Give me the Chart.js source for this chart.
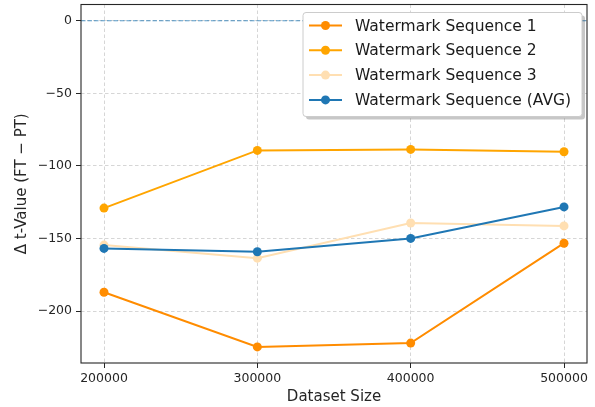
<!DOCTYPE html>
<html>
<head>
<meta charset="utf-8">
<script src="https://cdn.jsdelivr.net/npm/chart.js@4"></script>
<style>
html,body{margin:0;padding:0;background:#fff;}
#wrap{width:595px;height:407px;}
</style>
</head>
<body>
<div id="wrap"><canvas id="c" width="595" height="407"></canvas></div>
<script>
const datasetSizes = [200000, 300000, 400000, 500000];
const seq1 = [-187.0, -224.6, -222.0, -153.2];
const seq2 = [-129.0, -89.3, -88.6, -90.2];
const seq3 = [-154.5, -163.5, -139.3, -141.3];
const seqAvg = [-156.8, -159.1, -149.9, -128.2];
const seriesNames = ['Watermark Sequence 1', 'Watermark Sequence 2', 'Watermark Sequence 3', 'Watermark Sequence (AVG)'];
const xTicks = [200000, 300000, 400000, 500000];
const yTicks = [-200, -150, -100, -50, 0];
const xRange = [185000, 515000];
const yRange = [-235.7, 11.2];
const refLine = [0, 0];

const colors = ['#ff8c00', '#ffa500', '#ffdfb2', '#1f77b4'];
const FONT = "'DejaVu Sans', sans-serif";

function pts(vals) { return vals.map((v, i) => ({x: datasetSizes[i], y: v})); }

const series = [seq1, seq2, seq3, seqAvg];
const orders = [3, 2, 1, 0];
const datasets = series.map((s, i) => ({
  label: seriesNames[i],
  data: pts(s),
  borderColor: colors[i],
  backgroundColor: colors[i],
  pointBackgroundColor: colors[i],
  pointBorderColor: colors[i],
  borderWidth: 2,
  pointRadius: 4.5,
  pointBorderWidth: 0,
  tension: 0,
  order: orders[i]
}));
datasets.push({
  label: '_zero',
  data: [{x: xRange[0], y: refLine[0]}, {x: xRange[1], y: refLine[1]}],
  borderColor: 'rgba(31,119,180,0.75)',
  borderWidth: 1.1,
  borderDash: [4.5, 2],
  pointRadius: 0,
  order: 4
});

const framePlugin = {
  id: 'frame',
  afterDatasetsDraw(chart) {
    const {ctx, chartArea: a} = chart;
    ctx.save();
    ctx.strokeStyle = '#262626';
    ctx.lineWidth = 1.1;
    ctx.strokeRect(a.left, a.top, a.right - a.left, a.bottom - a.top);
    ctx.restore();
  }
};

function roundRect(ctx, x, y, w, h, r) {
  ctx.beginPath();
  ctx.moveTo(x + r, y);
  ctx.lineTo(x + w - r, y);
  ctx.arcTo(x + w, y, x + w, y + r, r);
  ctx.lineTo(x + w, y + h - r);
  ctx.arcTo(x + w, y + h, x + w - r, y + h, r);
  ctx.lineTo(x + r, y + h);
  ctx.arcTo(x, y + h, x, y + h - r, r);
  ctx.lineTo(x, y + r);
  ctx.arcTo(x, y, x + r, y, r);
  ctx.closePath();
}

const legendPlugin = {
  id: 'mplLegend',
  afterDraw(chart) {
    const {ctx, chartArea: a} = chart;
    const w = 279, h = 104;
    const x = a.right - 5 - w, y = a.top + 8;
    ctx.save();
    ctx.fillStyle = 'rgba(0,0,0,0.22)';
    roundRect(ctx, x + 3, y + 3, w, h, 3);
    ctx.fill();
    ctx.fillStyle = '#ffffff';
    roundRect(ctx, x, y, w, h, 3);
    ctx.fill();
    ctx.strokeStyle = '#cccccc';
    ctx.lineWidth = 1;
    ctx.stroke();
    ctx.font = '15.5px ' + FONT;
    ctx.textBaseline = 'middle';
    ctx.textAlign = 'left';
    for (let i = 0; i < seriesNames.length; i++) {
      const cy = y + 13 + i * 24.8;
      ctx.strokeStyle = colors[i];
      ctx.lineWidth = 2;
      ctx.beginPath();
      ctx.moveTo(x + 6, cy);
      ctx.lineTo(x + 39, cy);
      ctx.stroke();
      ctx.fillStyle = colors[i];
      ctx.beginPath();
      ctx.arc(x + 22.5, cy, 4.5, 0, Math.PI * 2);
      ctx.fill();
      ctx.fillStyle = '#1a1a1a';
      ctx.fillText(seriesNames[i], x + 52, cy + 1);
    }
    ctx.restore();
  }
};

new Chart(document.getElementById('c'), {
  type: 'line',
  data: {datasets},
  plugins: [framePlugin, legendPlugin],
  options: {
    responsive: false,
    devicePixelRatio: 1,
    animation: false,
    layout: {padding: {top: 1, right: 8, bottom: 0, left: 0}},
    plugins: {legend: {display: false}, tooltip: {enabled: false}},
    scales: {
      x: {
        type: 'linear',
        min: xRange[0],
        max: xRange[1],
        afterBuildTicks: s => { s.ticks = xTicks.map(v => ({value: v})); },
        afterFit: s => { s.height = 44; s.paddingLeft = 0; s.paddingRight = 0; },
        ticks: {
          callback: v => String(v),
          font: {family: FONT, size: 12.5},
          color: '#262626',
          padding: 3,
          maxRotation: 0,
          autoSkip: false
        },
        grid: {
          color: 'rgba(190,190,190,0.8)',
          lineWidth: 0.8,
          tickColor: '#262626',
          tickLength: 5,
          tickWidth: 1,
          tickBorderDash: []
        },
        border: {display: false, dash: [3.5, 2.5]},
        title: {
          display: true,
          text: 'Dataset Size',
          font: {family: FONT, size: 15},
          color: '#262626',
          padding: {top: 0, bottom: 1}
        }
      },
      y: {
        type: 'linear',
        min: yRange[0],
        max: yRange[1],
        afterBuildTicks: s => { s.ticks = yTicks.map(v => ({value: v})); },
        afterFit: s => { s.width = 81; s.paddingTop = 0; s.paddingBottom = 0; },
        ticks: {
          callback: v => String(v).replace('-', '\u2212'),
          font: {family: FONT, size: 12.5},
          color: '#262626',
          padding: 4,
          autoSkip: false
        },
        grid: {
          color: 'rgba(190,190,190,0.8)',
          lineWidth: 0.8,
          tickColor: '#262626',
          tickLength: 5,
          tickWidth: 1,
          tickBorderDash: []
        },
        border: {display: false, dash: [3.5, 2.5]},
        title: {
          display: true,
          text: '\u0394 t-Value (FT \u2212 PT)',
          font: {family: FONT, size: 15},
          color: '#262626',
          padding: {top: 13, bottom: 0}
        }
      }
    }
  }
});
</script>
</body>
</html>
